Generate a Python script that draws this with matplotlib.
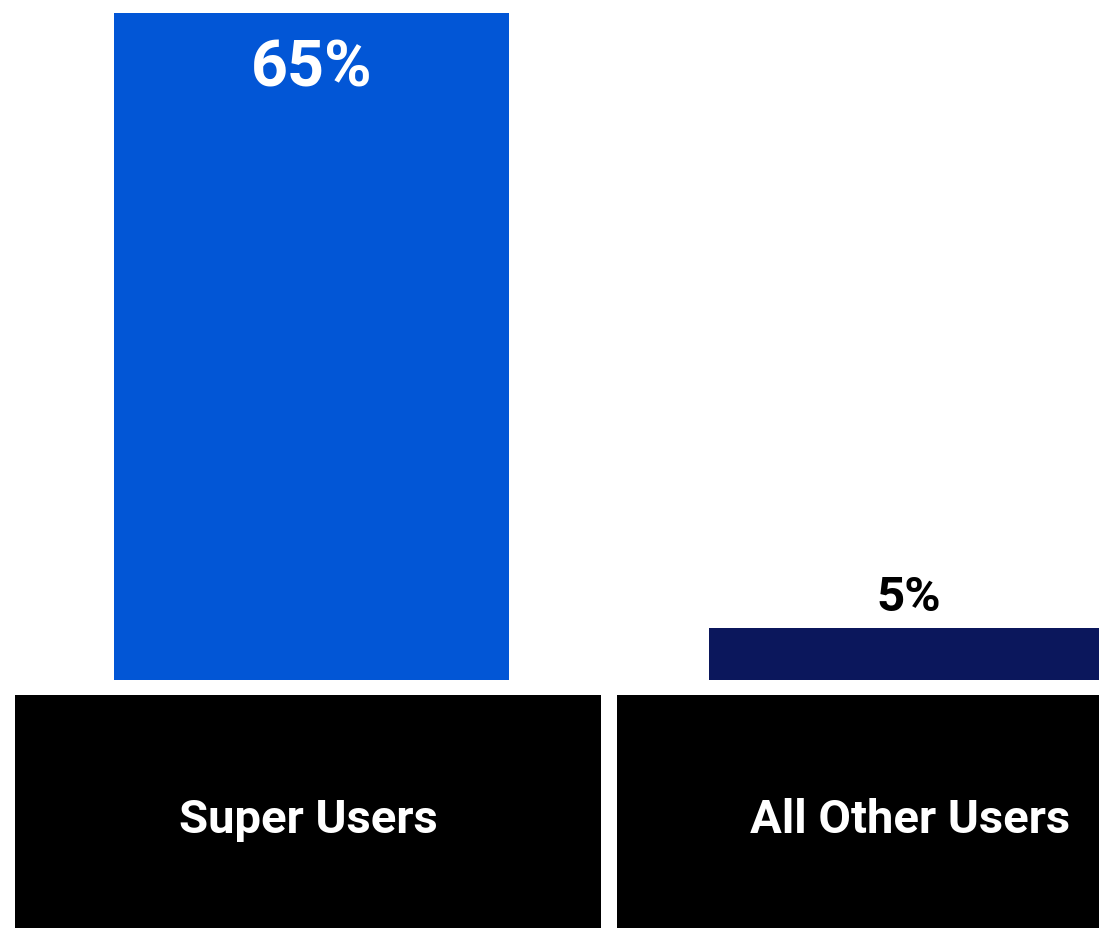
import matplotlib
matplotlib.use("Agg")
import matplotlib.pyplot as plt
from matplotlib.patches import Rectangle

categories = ["Super Users", "All Other Users"]
values = [65, 5]
bar_colors = ["#0256D6", "#0B175C"]
label_colors = ["white", "black"]

plt.rcParams["font.family"] = ["Roboto", "DejaVu Sans"]

W, H = 1099, 929
fig = plt.figure(figsize=(W / 100, H / 100), dpi=100)

# Bar panel: baseline at y=680 px, spans to the top of the figure
ax = fig.add_axes([0, (H - 680.5) / H, 1, 680 / H])
spacing = 594.5
ax.set_xlim(-311.5 / spacing, (W - 311.5) / spacing)
ax.set_ylim(0, 65 * 680 / 667)
xs = list(range(len(categories)))
ax.bar(xs, values, width=395 / spacing, color=bar_colors, linewidth=0)
ax.axis("off")

# Value labels: inside the tall bar, above the short one
ax.annotate(f"{values[0]}%", (xs[0], values[0]), xytext=(0, -52.6),
            textcoords="offset points", ha="center", va="baseline",
            fontsize=46.5, fontweight="bold", color=label_colors[0])
ax.annotate(f"{values[1]}%", (xs[1], values[1]), xytext=(2, 13),
            textcoords="offset points", ha="center", va="baseline",
            fontsize=35.5, fontweight="bold", color=label_colors[1])

# Category panel: black tiles with white names
lx = fig.add_axes([0, 0, 1, 233 / H])
lspacing = 602
lx.set_xlim(-308 / lspacing, (W - 308) / lspacing)
lx.set_ylim(0, 1)
half = 293 / lspacing
for i, name in enumerate(categories):
    lx.add_patch(Rectangle((i - half, -0.01), 2 * half, 1.01, color="black", linewidth=0))
    lx.text(i, (929 - 833) / 233, name, ha="center", va="baseline",
            fontsize=34, fontweight="bold", color="white")
lx.axis("off")

fig.savefig("out.png", dpi=100, facecolor="white")
